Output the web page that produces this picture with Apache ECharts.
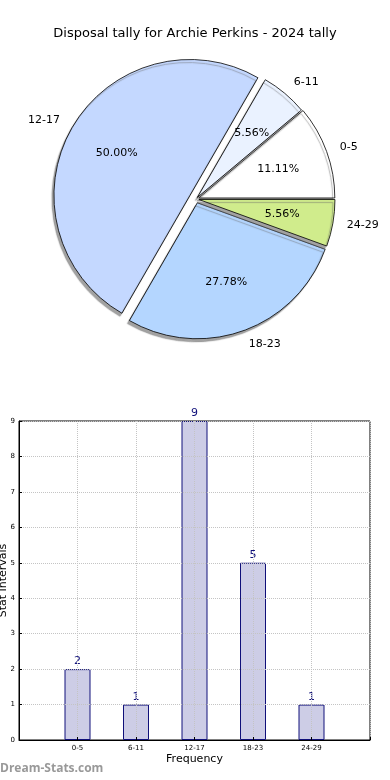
<!DOCTYPE html>
<html>
<head>
<meta charset="utf-8">
<script src="https://cdn.jsdelivr.net/npm/echarts@6/dist/echarts.min.js"></script>
<style>
html,body{margin:0;padding:0;background:#fff;}
#c{width:390px;height:780px;}
</style>
</head>
<body>
<div id="c"></div>
<script>
const titleText = 'Disposal tally for Archie Perkins - 2024 tally';
const categories = ['0-5', '6-11', '12-17', '18-23', '24-29'];
const values = [2, 1, 9, 5, 1];
const yTicks = [0, 1, 2, 3, 4, 5, 6, 7, 8, 9];

const pieColors = ['#ffffff', '#eaf2ff', '#c4d8ff', '#b4d6ff', '#d0ec8c'];
const explode = [3, 2, 7, 4, 3];
const FONT = 'DejaVu Sans';
const pieCenter = [196, 199];
const pieR = 136;

const total = values.reduce((a, b) => a + b, 0);
const hidden = { color: 'rgba(0,0,0,0)', borderWidth: 0, shadowColor: 'rgba(0,0,0,0)', shadowBlur: 0 };

const series = [];
categories.forEach((cat, i) => {
  const vis = {
    color: pieColors[i], borderColor: '#000', borderWidth: 0.8,
    shadowColor: 'rgba(100,100,100,0.6)', shadowBlur: 1, shadowOffsetX: -2, shadowOffsetY: 3
  };
  series.push({
    type: 'pie', center: pieCenter, radius: pieR, startAngle: 0, clockwise: false,
    avoidLabelOverlap: false, selectedMode: 'multiple', selectedOffset: explode[i],
    silent: true, animation: false, emphasis: { disabled: true },
    label: { position: 'outside', fontFamily: FONT, fontSize: 11, color: '#000', distanceToLabelLine: 0, overflow: 'none', formatter: '{b}' },
    labelLine: { show: false, length: 14, length2: 0 },
    data: categories.map((c, j) => ({
      name: c, value: values[j], selected: j === i,
      itemStyle: j === i ? vis : hidden,
      select: { itemStyle: j === i ? vis : hidden },
      label: { show: j === i }
    }))
  });
  series.push({
    type: 'pie', center: pieCenter, radius: [0, pieR * 1.2], startAngle: 0, clockwise: false,
    avoidLabelOverlap: false, selectedMode: 'multiple', selectedOffset: explode[i],
    silent: true, animation: false, emphasis: { disabled: true },
    label: { position: 'inside', fontFamily: FONT, fontSize: 11, color: '#000', overflow: 'none',
      formatter: p => (p.value / total * 100).toFixed(2) + '%' },
    labelLine: { show: false },
    data: categories.map((c, j) => ({
      name: c, value: values[j], selected: j === i,
      itemStyle: hidden, select: { itemStyle: hidden },
      label: { show: j === i }
    }))
  });
});

const xData = [''].concat(categories, ['']);
const barData = ['-'].concat(values, ['-']);

series.push({
  type: 'bar', xAxisIndex: 0, yAxisIndex: 0, data: barData, barWidth: 26,
  silent: true, animation: false,
  itemStyle: { color: '#cdcde6', borderColor: '#10107a', borderWidth: 1 },
  label: { show: true, position: 'top', distance: 2, fontFamily: FONT, fontSize: 11, color: '#10107a' }
});

const chart = echarts.init(document.getElementById('c'), null, { renderer: 'canvas' });
chart.setOption({
  backgroundColor: '#fff',
  animation: false,
  title: { text: titleText, left: 'center', top: 22, textStyle: { fontFamily: FONT, fontSize: 13, fontWeight: 'normal', color: '#000' } },
  grid: { left: 19, right: 20, top: 421, bottom: 40, containLabel: false, outerBoundsMode: 'none',
    show: true, borderColor: '#000', borderWidth: 1, backgroundColor: 'rgba(0,0,0,0)' },
  xAxis: {
    type: 'category', data: xData, boundaryGap: false, z: 3,
    name: 'Frequency', nameLocation: 'middle', nameGap: 14, nameMoveOverlap: false,
    nameTextStyle: { fontFamily: FONT, fontSize: 11, color: '#000' },
    axisLine: { lineStyle: { color: '#000', width: 1 } },
    axisTick: { inside: true, length: 3, lineStyle: { color: '#000' } },
    axisLabel: { fontFamily: FONT, fontSize: 7, color: '#000', margin: 5, interval: 0 },
    splitLine: { show: true, lineStyle: { color: '#c4c4c4', type: 'dotted', width: 1 } }
  },
  yAxis: {
    type: 'value', min: yTicks[0], max: yTicks[yTicks.length - 1], interval: 1, z: 3,
    name: 'Stat Intervals', nameLocation: 'middle', nameGap: 10, nameMoveOverlap: false,
    nameTextStyle: { fontFamily: FONT, fontSize: 11, color: '#000' },
    axisLine: { show: true, lineStyle: { color: '#000', width: 1 } },
    axisTick: { show: true, inside: true, length: 3, lineStyle: { color: '#000' } },
    axisLabel: { fontFamily: FONT, fontSize: 7, color: '#000', margin: 4 },
    splitLine: { show: true, lineStyle: { color: '#c4c4c4', type: 'dotted', width: 1 } }
  },
  graphic: [{
    type: 'text', left: 0, top: 763,
    style: { text: 'Dream-Stats.com', fontFamily: 'Open Sans', fontSize: 12, fontWeight: 'bold', fill: '#999999' }
  }],
  series: series
});
</script>
</body>
</html>
